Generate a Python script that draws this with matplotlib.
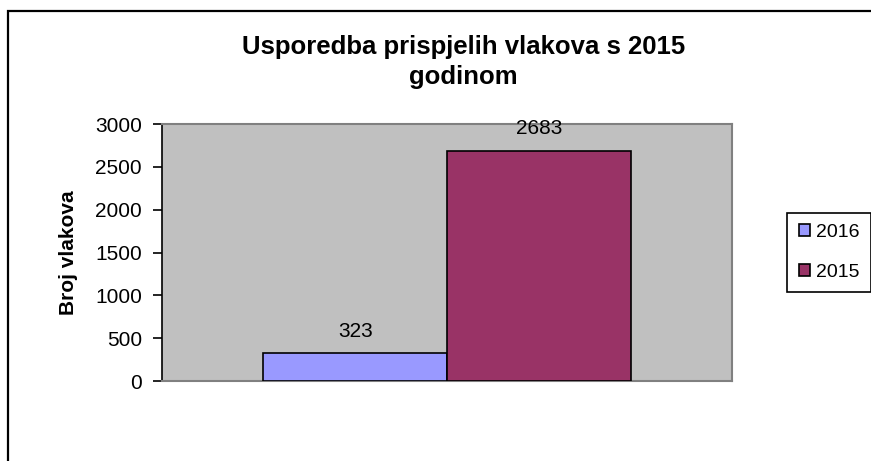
import matplotlib.pyplot as plt
from matplotlib.patches import Rectangle, Patch

# data
years = ['2016', '2015']
values = [323, 2683]
colors = ['#9999FF', '#993366']
title = 'Usporedba prispjelih vlakova s 2015\ngodinom'
ylabel = 'Broj vlakova'
yticks = [0, 500, 1000, 1500, 2000, 2500, 3000]

plt.rcParams['font.family'] = ['Liberation Sans', 'DejaVu Sans']

fig = plt.figure(figsize=(8.71, 4.61), dpi=100)
ax = fig.add_axes([0.186, 0.1735, 0.6544, 0.5575])

# plot area like the old excel chart
ax.set_facecolor('#C0C0C0')
for s in ['top', 'right', 'bottom']:
    ax.spines[s].set_color('#808080')
    ax.spines[s].set_linewidth(1.5)
ax.spines['left'].set_color('black')
ax.spines['left'].set_linewidth(1.2)

width = 0.322
offsets = [-width / 2, width / 2]
handles = []
for i in range(len(values)):
    ax.bar(offsets[i], values[i], width=width, color=colors[i],
           edgecolor='black', linewidth=1.2, zorder=3)
    ax.annotate(str(values[i]), (offsets[i], values[i]), xytext=(0, 16),
                textcoords='offset points', ha='center', va='center',
                fontsize=15)
    handles.append(Patch(facecolor=colors[i], edgecolor='black', linewidth=1.2, label=years[i]))

ax.set_xlim(-0.5, 0.5)
ax.set_ylim(0, 3000)
ax.set_yticks(yticks)
ax.set_xticks([])
ax.tick_params(axis='y', length=6.5, width=1.2, pad=8, labelsize=15)
ax.set_ylabel(ylabel, fontsize=15, fontweight='bold')
ax.yaxis.set_label_coords(68 / 871, 1 - 252.5 / 461, transform=fig.transFigure)
ax.yaxis.label.set_va('center')

fig.text(0.532, 0.866, title, ha='center', va='center', fontsize=18.5,
         fontweight='bold', linespacing=1.3)

leg = fig.legend(handles=handles, loc='center', bbox_to_anchor=(0.952, 0.4523),
                 fontsize=14, handlelength=0.57, handleheight=0.57,
                 handletextpad=0.3, labelspacing=1.15, borderpad=0.6,
                 borderaxespad=0, fancybox=False, edgecolor='black', framealpha=1)
leg.get_frame().set_linewidth(1.2)

# outer chart border (cut off at right and bottom)
fig.patches.append(Rectangle((8 / 871, -0.2), 1.2, 1.2 - 11 / 461,
                             transform=fig.transFigure, fill=False,
                             edgecolor='black', linewidth=1.6, clip_on=False))

fig.savefig('out.png', dpi=100)
